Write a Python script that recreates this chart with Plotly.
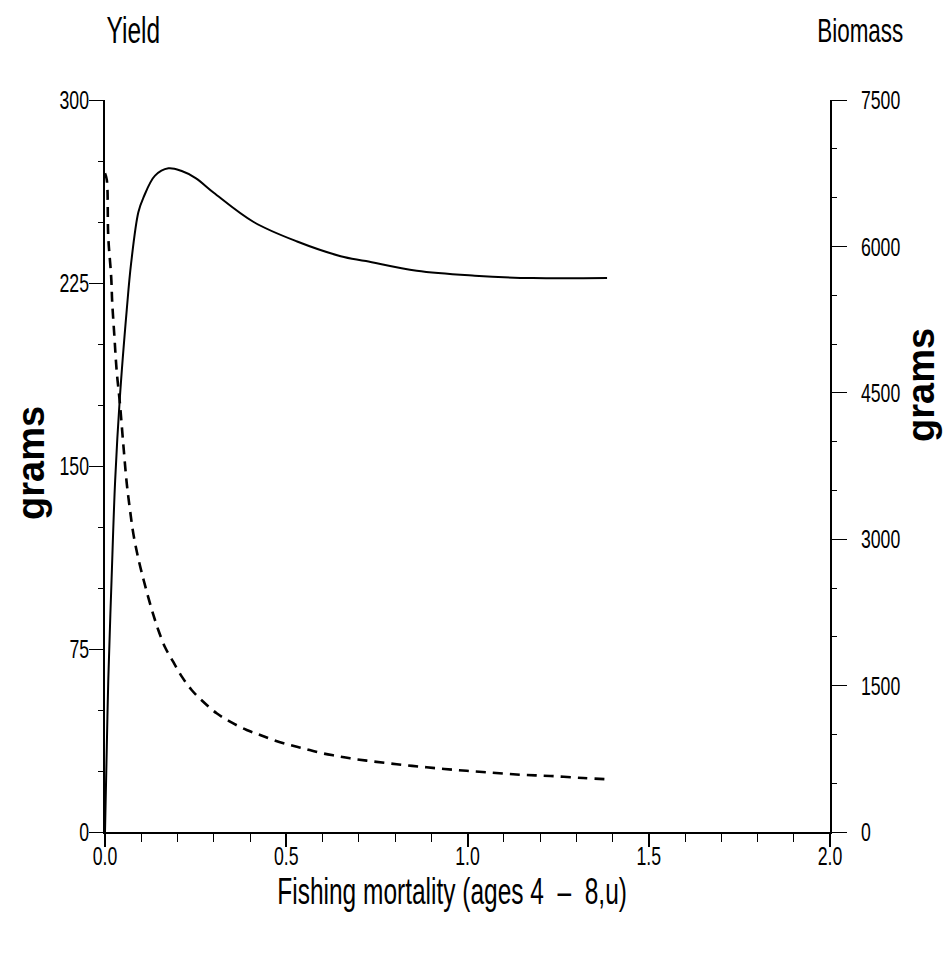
import plotly.graph_objects as go

# Fishing mortality (ages 4-8) for the yield-per-recruit curve
f_yield = [0, 0.005, 0.009, 0.018, 0.028, 0.041, 0.060, 0.072, 0.092, 0.106,
           0.138, 0.175, 0.210, 0.250, 0.300, 0.410, 0.530, 0.650, 0.720,
           0.860, 1.020, 1.180, 1.385]
# Yield per recruit (grams)
yield_g = [0, 35, 62, 103, 144, 178, 214, 233, 254, 260,
           269, 272, 271, 268, 262, 250, 242, 236, 234,
           230, 228, 227, 227]

# Fishing mortality for the biomass-per-recruit curve
f_biomass = [0, 0.005, 0.009, 0.017, 0.020, 0.026, 0.032, 0.041, 0.051, 0.060,
             0.069, 0.078, 0.092, 0.106, 0.119, 0.133, 0.147, 0.166, 0.188,
             0.212, 0.239, 0.271, 0.308, 0.345, 0.391, 0.428, 0.464, 0.510,
             0.547, 0.593, 0.639, 0.676, 0.722, 0.805, 0.887, 0.970, 1.053,
             1.145, 1.228, 1.319, 1.385]
# Biomass per recruit (grams)
biomass_g = [6750, 6680, 6100, 5690, 5420, 5075, 4734, 4396, 3948, 3573,
             3299, 3060, 2800, 2590, 2410, 2230, 2070, 1890, 1745,
             1592, 1455, 1335, 1216, 1130, 1045, 994, 943, 891,
             857, 812, 779, 755, 731, 694, 663, 635, 612,
             587, 574, 553, 540]

yield_ticks = [0, 75, 150, 225, 300]
biomass_ticks = [0, 1500, 3000, 4500, 6000, 7500]
f_ticks = [0.0, 0.5, 1.0, 1.5, 2.0]

SANS = "Liberation Sans, Arial, Helvetica, sans-serif"
SQUEEZE = 0.68  # horizontal compression giving a condensed-type look

fig = go.Figure()
fig.add_trace(go.Scatter(
    x=f_yield, y=yield_g, mode="lines", line=dict(color="black", width=2),
    line_shape="spline", showlegend=False, yaxis="y"))
fig.add_trace(go.Scatter(
    x=f_biomass, y=biomass_g, mode="lines",
    line=dict(color="black", width=2.6, dash="10px,7px"),
    line_shape="spline", showlegend=False, yaxis="y2"))

W, H = 943, 960
L, R, T, B = 105, 113, 100, 128


def px_x(px):
    return (px - L) / (W - L - R)


def px_y(py):
    return (H - B - py) / (H - T - B)


tick_font = dict(family=SANS, size=26, color="black")

fig.update_layout(
    width=W, height=H,
    margin=dict(l=L, r=R, t=T, b=B),
    paper_bgcolor="white", plot_bgcolor="white",
    font=dict(family=SANS, color="black", size=26),
    xaxis=dict(
        range=[0, 2.0], tickvals=f_ticks, tickformat=".1f",
        showline=True, linecolor="black", linewidth=1.5,
        ticks="outside", ticklen=13, tickwidth=1.5, tickcolor="black",
        minor=dict(dtick=0.1, ticks="outside", ticklen=8, tickwidth=1.2,
                   tickcolor="black"),
        showgrid=False, zeroline=False, ticklabelstandoff=-13,
        tickfont=tick_font,
    ),
    yaxis=dict(
        range=[0, 300], tickvals=yield_ticks,
        showline=True, linecolor="black", linewidth=1.5,
        ticks="outside", ticklen=14, tickwidth=1.2, tickcolor="black",
        minor=dict(dtick=25, ticks="outside", ticklen=5, tickwidth=1,
                   tickcolor="black"),
        showgrid=False, zeroline=False, ticklabelstandoff=-5,
        tickfont=tick_font,
    ),
    yaxis2=dict(
        range=[0, 7500], tickvals=biomass_ticks, overlaying="y", side="right",
        showline=True, linecolor="black", linewidth=1.5,
        ticks="outside", ticklen=15, tickwidth=1.2, tickcolor="black",
        minor=dict(dtick=500, ticks="outside", ticklen=5, tickwidth=1,
                   tickcolor="black"),
        showgrid=False, zeroline=False, ticklabelstandoff=9,
        tickfont=tick_font,
    ),
)

annotations = [
    dict(text="Yield", x=px_x(133), y=px_y(30), font=dict(family=SANS, size=36)),
    dict(text="Biomass", x=px_x(860), y=px_y(30), font=dict(family=SANS, size=33)),
    dict(text="Fishing mortality (ages 4  \u2013  8,u)", x=px_x(452), y=px_y(891),
         font=dict(family=SANS, size=36)),
    dict(text="grams", x=px_x(31), y=px_y(463), textangle=-90,
         font=dict(family=SANS, size=38, weight="bold")),
    dict(text="grams", x=px_x(921), y=px_y(385), textangle=-90,
         font=dict(family=SANS, size=38, weight="bold")),
]
for a in annotations:
    a.update(xref="paper", yref="paper", showarrow=False,
             xanchor="center", yanchor="middle")
    fig.add_annotation(**a)

# Compress every label except the two "grams" titles horizontally so the
# text reads like a condensed typeface.
squeeze_js = """
var gd = document.getElementById('{plot_id}');
gd.querySelectorAll('svg text').forEach(function (t) {
  if (t.textContent === 'grams' || t.getAttribute('lengthAdjust')) return;
  var w = t.getComputedTextLength();
  if (w > 0) {
    t.setAttribute('textLength', (w * SQUEEZE).toFixed(2));
    t.setAttribute('lengthAdjust', 'spacingAndGlyphs');
  }
});
""".replace("SQUEEZE", str(SQUEEZE))

fig.write_html("out.html", post_script=squeeze_js)
